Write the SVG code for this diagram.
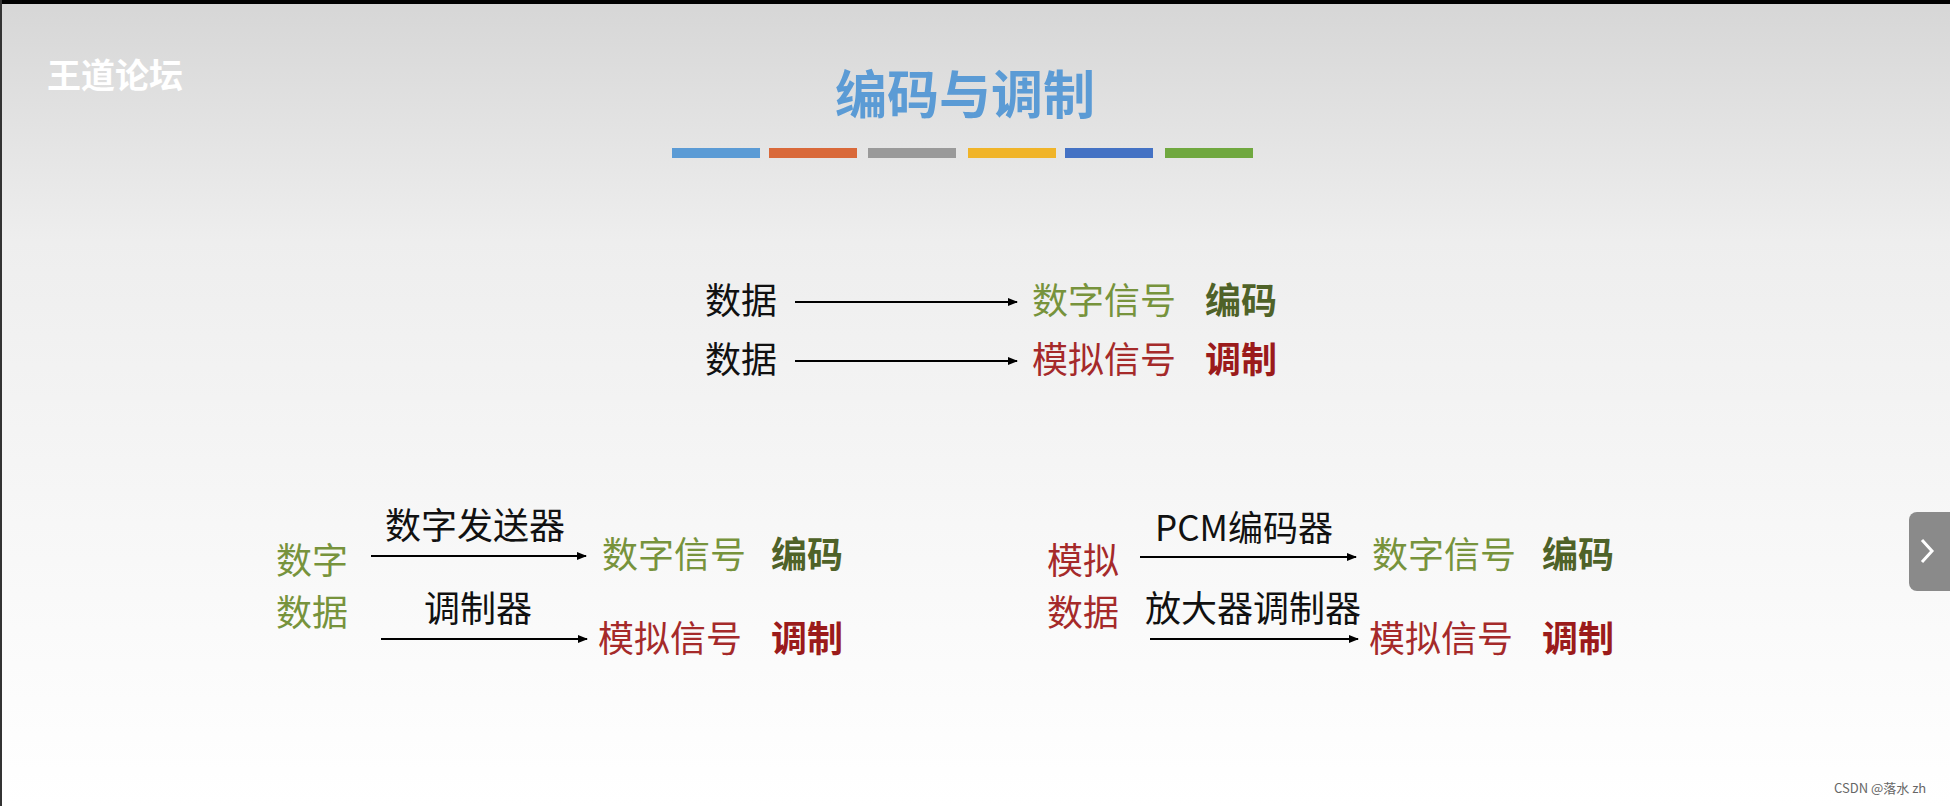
<svg xmlns="http://www.w3.org/2000/svg" width="1950" height="806" viewBox="0 0 1950 806">
<defs>
<linearGradient id="bg" x1="0" y1="0" x2="0" y2="1">
<stop offset="0" stop-color="#d6d6d6"/><stop offset="0.3" stop-color="#eeeeee"/><stop offset="0.65" stop-color="#f7f7f7"/><stop offset="1" stop-color="#ffffff"/>
</linearGradient>
<marker id="ah" markerWidth="10" markerHeight="8" refX="9" refY="4" orient="auto" markerUnits="userSpaceOnUse"><path d="M0,0 L10,4 L0,8 z" fill="#000"/></marker>
</defs>
<style>
text{font-family:"Noto Sans CJK SC","Liberation Sans",sans-serif;font-size:36px}
.k{fill:#111}.g{fill:#77933c}.r{fill:#a52a2a}.gb{fill:#4f6228;font-weight:bold}.rb{fill:#9b1b1b;font-weight:bold}
.a{stroke:#000;stroke-width:1.8;marker-end:url(#ah)}
</style>
<rect width="1950" height="806" fill="url(#bg)"/>
<rect width="1950" height="4" fill="#000"/>
<rect x="0" y="0" width="2" height="806" fill="#333"/>
<text x="47" y="88" style="font-size:34px;fill:#ffffff;font-weight:bold">王道论坛</text>
<text x="965" y="114" text-anchor="middle" style="font-size:52px;fill:#5b9bd5;font-weight:bold">编码与调制</text>
<g id="bars">
<rect x="672" y="148" width="88" height="10" fill="#5b9bd5"/>
<rect x="769" y="148" width="88" height="10" fill="#d9693a"/>
<rect x="868" y="148" width="88" height="10" fill="#9a9a9a"/>
<rect x="968" y="148" width="88" height="10" fill="#f0b429"/>
<rect x="1065" y="148" width="88" height="10" fill="#4472c4"/>
<rect x="1165" y="148" width="88" height="10" fill="#70a83f"/>
</g>
<g id="connectors">
<line class="a" x1="795" y1="302" x2="1017" y2="302"/>
<line class="a" x1="795" y1="361" x2="1017" y2="361"/>
<line class="a" x1="371" y1="556" x2="586" y2="556"/>
<line class="a" x1="381" y1="639" x2="587" y2="639"/>
<line class="a" x1="1140" y1="557" x2="1356" y2="557"/>
<line class="a" x1="1150" y1="639" x2="1358" y2="639"/>
</g>
<g id="top1"><text class="k" x="705" y="314">数据</text><text class="g" x="1032" y="314">数字信号</text><text class="gb" x="1205" y="314">编码</text></g>
<g id="top2"><text class="k" x="705" y="373">数据</text><text class="r" x="1032" y="373">模拟信号</text><text class="rb" x="1205" y="373">调制</text></g>
<g id="left"><text class="g" x="276" y="574">数字</text><text class="g" x="276" y="626">数据</text>
<text class="k" x="385" y="539">数字发送器</text><text class="g" x="602" y="568">数字信号</text><text class="gb" x="771" y="568">编码</text>
<text class="k" x="424" y="622">调制器</text><text class="r" x="598" y="652">模拟信号</text><text class="rb" x="771" y="652">调制</text></g>
<g id="right"><text class="r" x="1047" y="574">模拟</text><text class="r" x="1047" y="626">数据</text>
<text class="k" x="1155" y="541" style="font-size:35px">PCM编码器</text><text class="g" x="1372" y="568">数字信号</text><text class="gb" x="1542" y="568">编码</text>
<text class="k" x="1145" y="622">放大器调制器</text><text class="r" x="1369" y="652">模拟信号</text><text class="rb" x="1542" y="652">调制</text></g>
<g id="btn"><rect x="1909" y="512" width="50" height="79" rx="8" fill="#8a8a8a"/><path d="M1922,540 L1932,551 L1922,562" fill="none" stroke="#fff" stroke-width="3"/></g>
<text x="1834" y="793" style="font-size:13px;fill:#666">CSDN @落水 zh</text>
</svg>
